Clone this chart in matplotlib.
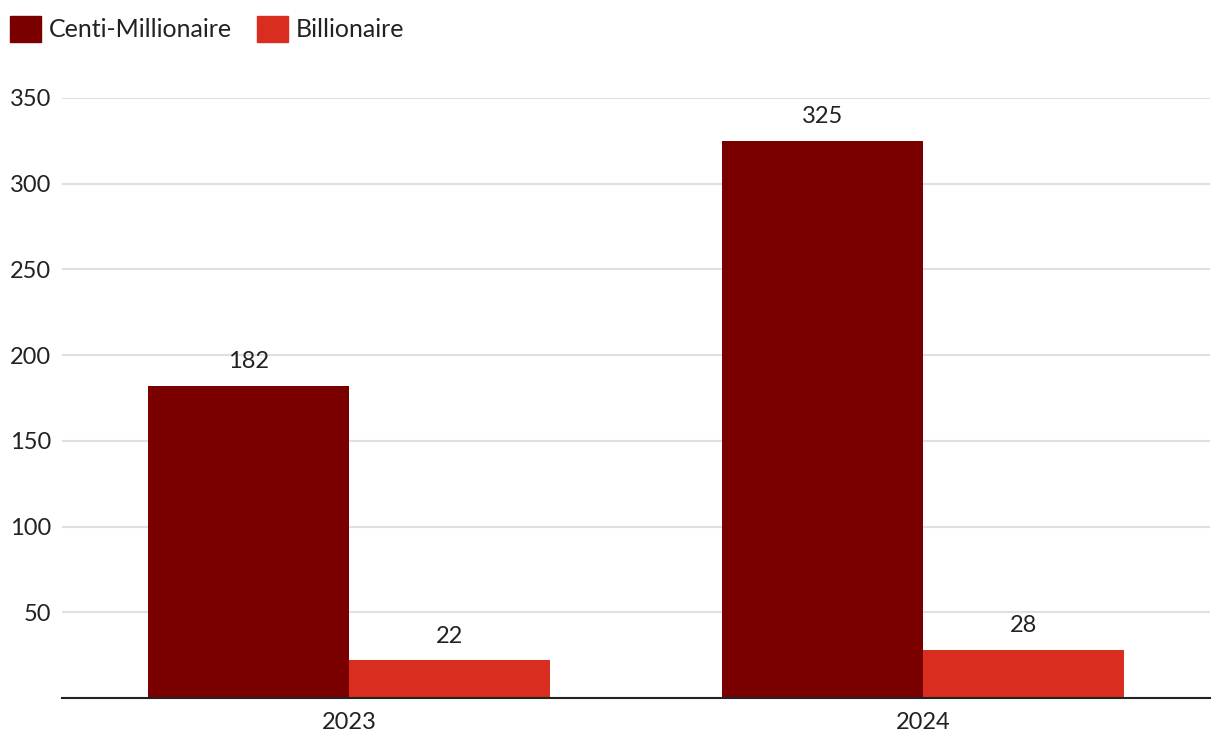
import numpy as np
import matplotlib.pyplot as plt
from matplotlib.patches import Patch

#----------------data
years = ['2023', '2024']
centi = [182, 325]
billion = [22, 28]
series_names = ['Centi-Millionaire', 'Billionaire']
yticks = [50, 100, 150, 200, 250, 300, 350]

dark = '#7a0000'
red = '#d92e1f'

plt.rcParams['font.family'] = ['Lato', 'DejaVu Sans']

fig = plt.figure(figsize=(12.2, 7.54), dpi=100)
ax = fig.add_axes([62/1220, 56/754, 1148/1220, 600/754])

x = np.arange(len(years))
w = 0.35
b1 = ax.bar(x - w/2, centi, w, color=dark, zorder=3)
b2 = ax.bar(x + w/2, billion, w, color=red, zorder=3)

#-------------value labels
for bars, vals in ((b1, centi), (b2, billion)):
    for r, v in zip(bars, vals):
        ax.text(r.get_x() + r.get_width()/2, v + 8, str(v), ha='center', va='bottom',
                fontsize=17, color='#222222')

ax.set_xlim(-0.5, 1.5)
ax.set_ylim(0, 350)
ax.set_yticks(yticks)
ax.set_xticks(x)
ax.set_xticklabels(years)
ax.tick_params(axis='both', length=0, labelsize=17, labelcolor='#222222')
ax.tick_params(axis='y', pad=8)
ax.tick_params(axis='x', pad=10)
ax.grid(axis='y', color='#e0e0e0', linewidth=1.5, zorder=0)
for s in ['top', 'right', 'left']:
    ax.spines[s].set_visible(False)
ax.spines['bottom'].set_color('#222222')
ax.spines['bottom'].set_linewidth(1.5)
ax.spines['bottom'].set_zorder(4)

handles = [Patch(color=dark), Patch(color=red)]
fig.legend(handles, series_names, loc='upper left', bbox_to_anchor=(-0.004, 0.999),
           ncol=2, frameon=False, fontsize=18, handlelength=1.25, handleheight=1.25,
           handletextpad=0.3, columnspacing=1.0, labelcolor='#222222',
           borderaxespad=0.2)

plt.savefig('out.png', dpi=100)
